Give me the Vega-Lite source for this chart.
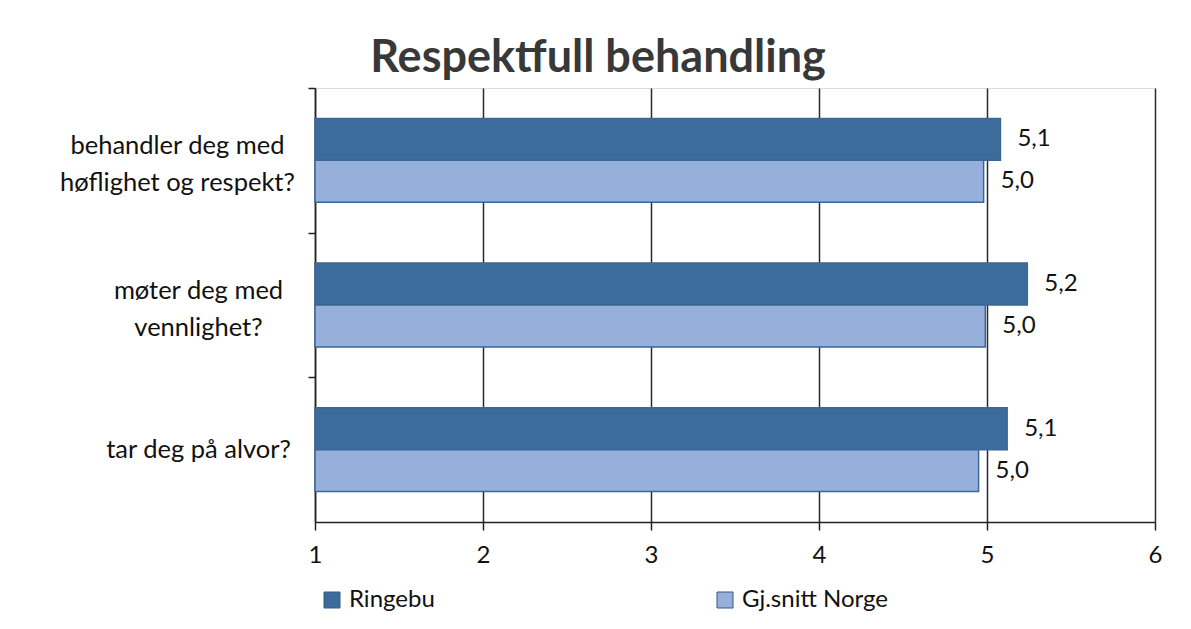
{
  "$schema": "https://vega.github.io/schema/vega-lite/v6.json",
  "width": 840,
  "height": 434,
  "autosize": {"type": "none"},
  "padding": {"left": 315, "top": 88, "right": 36, "bottom": 107},
  "background": "white",
  "title": {
    "text": "Respektfull behandling",
    "font": "Lato",
    "fontSize": 45,
    "fontWeight": "bold",
    "color": "#383838",
    "anchor": "middle",
    "frame": "group",
    "dx": -137,
    "offset": 6
  },
  "data": {
    "values": [
      {"question": "behandler deg med høflighet og respekt?", "series": "Ringebu", "value": 5.08, "label": "5,1"},
      {"question": "behandler deg med høflighet og respekt?", "series": "Gj.snitt Norge", "value": 4.98, "label": "5,0"},
      {"question": "møter deg med vennlighet?", "series": "Ringebu", "value": 5.24, "label": "5,2"},
      {"question": "møter deg med vennlighet?", "series": "Gj.snitt Norge", "value": 4.99, "label": "5,0"},
      {"question": "tar deg på alvor?", "series": "Ringebu", "value": 5.12, "label": "5,1"},
      {"question": "tar deg på alvor?", "series": "Gj.snitt Norge", "value": 4.95, "label": "5,0"}
    ]
  },
  "encoding": {
    "y": {
      "field": "question",
      "type": "nominal",
      "sort": ["behandler deg med høflighet og respekt?", "møter deg med vennlighet?", "tar deg på alvor?"],
      "scale": {"paddingInner": 0.42, "paddingOuter": 0.21},
      "axis": {
        "title": null,
        "domain": true,
        "domainColor": "#222222",
        "domainWidth": 1.5,
        "ticks": true,
        "tickSize": 7,
        "tickColor": "#222222",
        "tickWidth": 1.5,
        "tickOffset": -72.33,
        "labelOffset": {
          "condition": {"test": "datum.value != 'tar deg på alvor?'", "value": 57.5},
          "value": 72.33
        },
        "labelAlign": "center",
        "labelBaseline": "middle",
        "labelPadding": {
          "condition": {"test": "datum.value == 'behandler deg med høflighet og respekt?'", "value": 131},
          "value": 110
        },
        "labelFont": "Lato",
        "labelFontSize": 25.5,
        "labelColor": "#111111",
        "labelLineHeight": 37,
        "labelLimit": 400,
        "labelExpr": "datum.value == 'behandler deg med høflighet og respekt?' ? ['behandler deg med', 'høflighet og respekt?'] : datum.value == 'møter deg med vennlighet?' ? ['møter deg med', 'vennlighet?'] : datum.value"
      }
    },
    "yOffset": {"field": "series", "type": "nominal", "sort": ["Ringebu", "Gj.snitt Norge"]},
    "x": {
      "field": "value",
      "type": "quantitative",
      "scale": {"domain": [1, 6], "zero": false, "nice": false},
      "axis": {
        "title": null,
        "values": [1, 2, 3, 4, 5, 6],
        "grid": true,
        "gridColor": "#2a2a2a",
        "gridWidth": 1.5,
        "domainColor": "#222222",
        "domainWidth": 1.5,
        "tickColor": "#222222",
        "tickSize": 8,
        "tickWidth": 1.5,
        "labelFont": "Lato",
        "labelFontSize": 24,
        "labelColor": "#111111",
        "labelPadding": 13,
        "labelFlush": false
      }
    }
  },
  "layer": [
    {
      "mark": {"type": "bar", "stroke": "#3a6797", "strokeWidth": 1.5},
      "encoding": {
        "x2": {"datum": 1},
        "color": {
          "field": "series",
          "type": "nominal",
          "scale": {"domain": ["Ringebu", "Gj.snitt Norge"], "range": ["#3b6c9b", "#97afdb"]},
          "legend": {
            "orient": "none",
            "legendX": 5,
            "legendY": 500,
            "direction": "horizontal",
            "title": null,
            "symbolType": "square",
            "symbolSize": 256,
            "symbolStrokeColor": "#2f5c8a",
            "symbolStrokeWidth": 1,
            "labelFont": "Lato",
            "labelFontSize": 24,
            "labelColor": "#111111",
            "labelOffset": 5,
            "columnPadding": 278
          }
        }
      }
    },
    {
      "mark": {"type": "text", "align": "left", "baseline": "middle", "dx": 17, "font": "Lato", "fontSize": 24, "color": "#111111"},
      "encoding": {
        "text": {"field": "label"}
      }
    }
  ]
}
